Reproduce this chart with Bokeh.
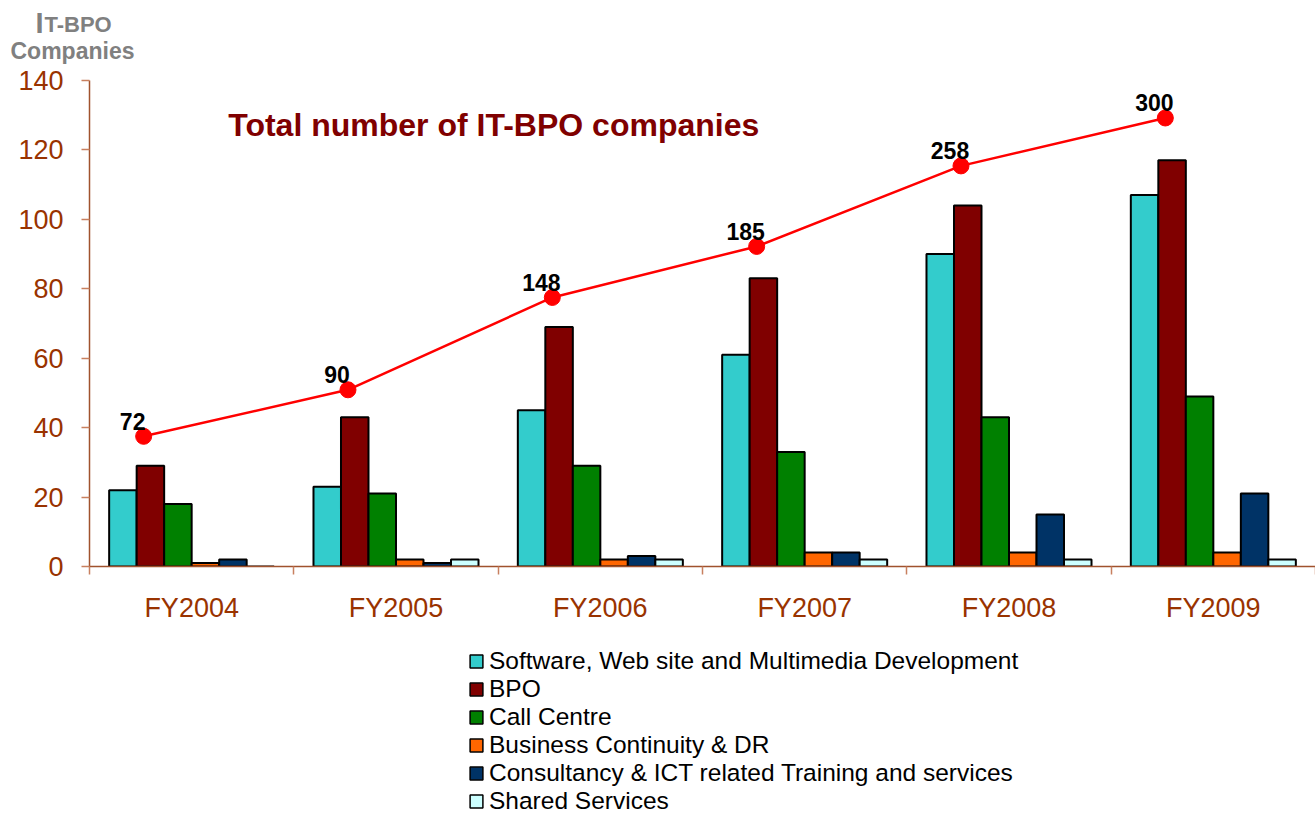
from bokeh.plotting import figure
from bokeh.layouts import column
from bokeh.models import (Range1d, FixedTicker, CustomJSTickFormatter, Legend, LegendItem,
                          Label, ColumnDataSource)
from bokeh.core.properties import value
from bokeh.embed import file_html
from bokeh.resources import INLINE

categories = ["FY2004", "FY2005", "FY2006", "FY2007", "FY2008", "FY2009"]
software = [22, 23, 45, 61, 90, 107]
bpo = [29, 43, 69, 83, 104, 117]
call_centre = [18, 21, 29, 33, 43, 49]
bcdr = [1, 2, 2, 4, 4, 4]
consultancy = [2, 1, 3, 4, 15, 21]
shared = [0, 2, 2, 2, 2, 2]
totals = [72, 90, 148, 185, 258, 300]
# vertical position at which the total line is drawn (read on the left scale)
total_line_pos = [37.5, 50.9, 77.5, 92.2, 115.4, 129.2]

series_names = ["Software, Web site and Multimedia Development", "BPO", "Call Centre",
                "Business Continuity & DR", "Consultancy & ICT related Training and services",
                "Shared Services"]
series_values = [software, bpo, call_centre, bcdr, consultancy, shared]
colors = ["#33CCCC", "#800000", "#008000", "#FF6600", "#003366", "#CCFFFF"]

FONT = "Liberation Sans"
AXIS_COL = "#A0522D"
LABEL_COL = "#993300"
W = 1315
TOP_H = 66
MAIN_H = 562
LEG_H = 815 - TOP_H - MAIN_H


def bare(fig):
    fig.outline_line_color = None
    fig.grid.visible = False
    fig.background_fill_color = "white"
    fig.border_fill_color = "white"
    fig.frame_align = False
    return fig


# ---- top strip: y-axis title ----
top = bare(figure(width=W, height=TOP_H, x_range=Range1d(0, W), y_range=Range1d(TOP_H, 0),
                  output_backend="svg", toolbar_location=None, title_location=None,
                  x_axis_location=None, y_axis_location=None, min_border=0))
top.add_layout(Label(x=35, y=22, text="I", text_font=FONT, text_font_style="bold",
                     text_font_size="29px", text_color="#808080", text_baseline="middle"))
top.add_layout(Label(x=44, y=24, text="T-BPO", text_font=FONT, text_font_style="bold",
                     text_font_size="22px", text_color="#808080", text_baseline="middle"))
top.add_layout(Label(x=10, y=50, text="Companies", text_font=FONT, text_font_style="bold",
                     text_font_size="23px", text_color="#808080", text_baseline="middle"))

# ---- main chart ----
p = bare(figure(width=W, height=MAIN_H, x_range=Range1d(0, 6), y_range=Range1d(0, 140),
                output_backend="svg", toolbar_location=None, title_location=None,
                min_border_left=89, min_border_right=0, min_border_top=14,
                min_border_bottom=62))

n = len(categories)
centers = [i + 0.5 for i in range(n)]
bw = 0.1346
for k, (vals, col) in enumerate(zip(series_values, colors)):
    xs = [c + (k - 2.5) * bw for c in centers]
    src = ColumnDataSource(dict(x=xs, top=vals))
    p.vbar(x="x", top="top", width=bw, bottom=0, source=src, fill_color=col,
           line_color="black", line_width=2)

line_x = [c - 0.235 for c in centers]
lsrc = ColumnDataSource(dict(x=line_x, y=total_line_pos, t=[str(v) for v in totals]))
p.line("x", "y", source=lsrc, line_color="#FF0000", line_width=2.5)
p.scatter("x", "y", source=lsrc, size=16, fill_color="#FF0000", line_color="#FF0000")
p.text("x", "y", text="t", source=lsrc, x_offset=-11, y_offset=-15, text_align="center",
       text_baseline="middle", text_font=value(FONT), text_font_style="bold",
       text_font_size="23px", text_color="black")

xa = p.xaxis[0]
xa.ticker = FixedTicker(ticks=centers, minor_ticks=list(range(n + 1)))
xa.formatter = CustomJSTickFormatter(args=dict(labels=categories),
                                     code="return labels[Math.round(tick - 0.5)] || '';")
xa.major_tick_line_color = None
xa.minor_tick_in = 0
xa.minor_tick_out = 8
xa.minor_tick_line_color = "#C8805F"
xa.minor_tick_line_width = 1.5
xa.axis_line_color = AXIS_COL
xa.axis_line_width = 1.5
xa.major_label_text_font = FONT
xa.major_label_text_font_size = "27px"
xa.major_label_text_color = LABEL_COL
xa.major_label_standoff = 18

ya = p.yaxis[0]
ya.ticker = FixedTicker(ticks=[0, 20, 40, 60, 80, 100, 120, 140])
ya.minor_tick_line_color = None
ya.major_tick_in = 0
ya.major_tick_out = 8
ya.major_tick_line_color = "#C8805F"
ya.major_tick_line_width = 1.5
ya.axis_line_color = AXIS_COL
ya.axis_line_width = 1.5
ya.major_label_text_font = FONT
ya.major_label_text_font_size = "27px"
ya.major_label_text_color = LABEL_COL
ya.major_label_standoff = 18

p.add_layout(Label(x=0.679, y=127.2, text="Total number of IT-BPO companies",
                   text_font=FONT, text_font_style="bold", text_font_size="32px",
                   text_color="#800000", text_baseline="middle"))

# ---- legend strip ----
lg = bare(figure(width=W, height=LEG_H, x_range=Range1d(0, 1), y_range=Range1d(0, 1),
                 output_backend="svg", toolbar_location=None, title_location=None,
                 x_axis_location=None, y_axis_location=None, min_border=0))
items = []
for name, col in zip(series_names, colors):
    # hidden renderer that only supplies the legend swatch style
    r = lg.vbar(x=[0.5], top=[1], width=0.1, fill_color=col, line_color="black",
                line_width=1.5, visible=False)
    items.append(LegendItem(label=name, renderers=[r]))
legend = Legend(items=items, location=(468, 0), orientation="vertical",
                label_text_font=FONT, label_text_font_size="24.5px", label_text_color="black",
                glyph_width=16, glyph_height=16, label_standoff=5, spacing=0, padding=0,
                margin=0, border_line_color=None, background_fill_alpha=0, label_height=26)
lg.add_layout(legend, "center")

layout = column(top, p, lg, spacing=0)
open("out.html", "w").write(file_html(layout, INLINE))
